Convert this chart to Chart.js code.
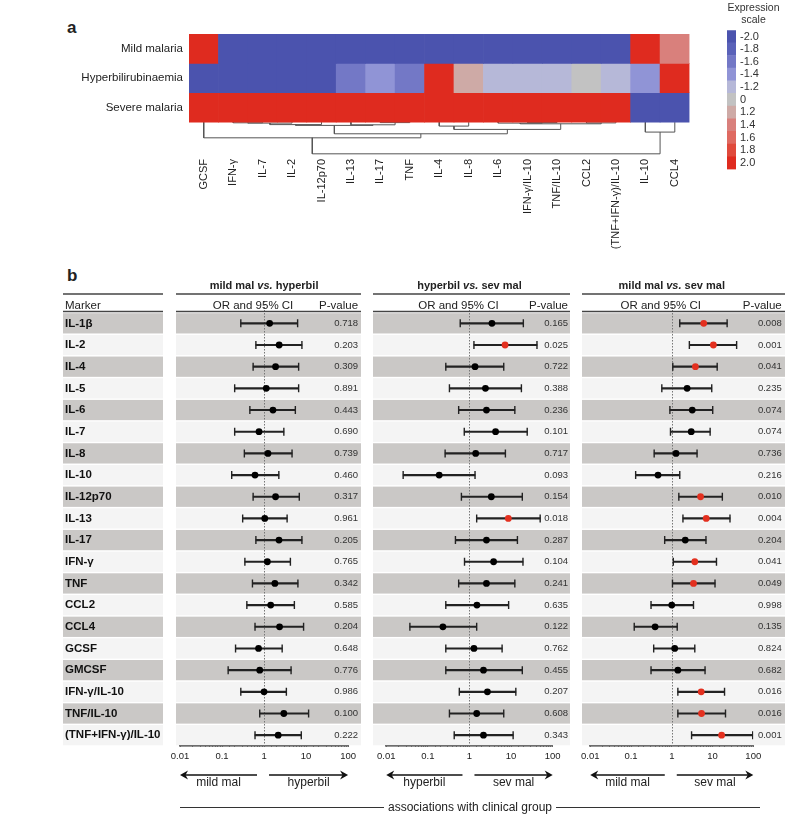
<!DOCTYPE html>
<html>
<head>
<meta charset="utf-8">
<script src="https://cdn.jsdelivr.net/npm/chart.js@4.4.1/dist/chart.umd.min.js"></script>
<style>
  body { margin: 0; background: #fff; }
  #fig { position: relative; width: 785px; height: 814px; font-family: 'Liberation Sans', Arial, sans-serif; color: #222; }
  #fig canvas { position: absolute; }
  .panel-label { position: absolute; font-weight: bold; font-size: 17px; line-height: 17px; }
  #assoc { position: absolute; left: 180px; top: 799px; width: 580px; height: 16px; display: flex; align-items: center; font-size: 12px; }
  #assoc .rule { flex: 1; border-top: 1px solid #333; }
  #assoc span { margin: 0 4px; }
</style>
</head>
<body>
<div id="fig">
  <div class="panel-label" style="left:67px; top:19px">a</div>
  <div class="panel-label" style="left:67px; top:267px">b</div>
  <canvas id="heatmap" width="692" height="265" style="left:0; top:0"></canvas>
  <canvas id="scale" width="70" height="180" style="left:710px; top:0"></canvas>
  <canvas id="forest1"></canvas>
  <canvas id="forest2"></canvas>
  <canvas id="forest3"></canvas>
  <div id="assoc"><div class="rule"></div><span>associations with clinical group</span><div class="rule"></div></div>
</div>
<script>
const FONT = "'Liberation Sans', Arial, sans-serif";
Chart.defaults.font.family = FONT;
Chart.defaults.color = '#222';
Chart.defaults.animation = false;
Chart.defaults.plugins.legend.display = false;
Chart.defaults.plugins.tooltip.enabled = false;

// ---- panel a data ----
const heatCols = ['GCSF', 'IFN-γ', 'IL-7', 'IL-2', 'IL-12p70', 'IL-13', 'IL-17', 'TNF', 'IL-4', 'IL-8', 'IL-6',
    'IFN-γ/IL-10', 'TNF/IL-10', 'CCL2', '(TNF+IFN-γ)/IL-10', 'IL-10', 'CCL4'];
const heatRows = ['Mild malaria', 'Hyperbilirubinaemia', 'Severe malaria'];
const mildExpr = [2, -2, -2, -2, -2, -2, -2, -2, -2, -2, -2, -2, -2, -2, -2, 2, 1.4];
const hyperExpr = [-2, -2, -2, -2, -2, -1.6, -1.4, -1.6, 2, 1.2, -1.2, -1.2, -1.2, 0, -1.2, -1.4, 2];
const severeExpr = [2, 2, 2, 2, 2, 2, 2, 2, 2, 2, 2, 2, 2, 2, 2, -2, -2];

const scaleValues = [-2, -1.8, -1.6, -1.4, -1.2, 0, 1.2, 1.4, 1.6, 1.8, 2];
const scaleLabels = ['-2.0', '-1.8', '-1.6', '-1.4', '-1.2', '0', '1.2', '1.4', '1.6', '1.8', '2.0'];
const scaleColors = ['#4b53ae', '#5a62b9', '#7378c6', '#9094d6', '#b6b8d8', '#c2c2c2',
    '#ceaaa6', '#d9807c', '#df6a61', '#e04a3c', '#df2b1f'];

// dendrogram merges: [node a, node b, linkage height]; leaves are 0..16, new nodes numbered from 17
const dendroMerges = [
    [1, 2, 0.024], [17, 3, 0.034], [18, 4, 0.085], [6, 7, 0.017], [5, 20, 0.092], [19, 21, 0.112],
    [8, 9, 0.136], [11, 12, 0.017], [10, 24, 0.034], [13, 14, 0.027], [25, 26, 0.058], [23, 27, 0.249],
    [22, 28, 0.398], [0, 29, 0.535], [15, 16, 0.34], [30, 31, 1.08]
];

// ---- panel b data ----
const markers = ['IL-1β', 'IL-2', 'IL-4', 'IL-5', 'IL-6', 'IL-7', 'IL-8', 'IL-10', 'IL-12p70', 'IL-13', 'IL-17',
    'IFN-γ', 'TNF', 'CCL2', 'CCL4', 'GCSF', 'GMCSF', 'IFN-γ/IL-10', 'TNF/IL-10', '(TNF+IFN-γ)/IL-10'];
const tickLabels = ['0.01', '0.1', '1', '10', '100'];

const orMildHyper = [1.36, 2.29, 1.88, 1.13, 1.63, 0.76, 1.24, 0.61, 1.88, 1.04, 2.27, 1.2, 1.81, 1.44, 2.34, 0.74, 0.79, 1.0, 2.96, 2.17];
const loMildHyper = [0.28, 0.64, 0.55, 0.2, 0.46, 0.2, 0.34, 0.17, 0.55, 0.31, 0.64, 0.35, 0.53, 0.39, 0.61, 0.21, 0.14, 0.28, 0.79, 0.61];
const hiMildHyper = [6.3, 7.97, 6.66, 6.66, 5.56, 2.96, 4.64, 2.25, 6.9, 3.54, 7.97, 4.24, 6.4, 5.27, 8.73, 2.7, 4.4, 3.4, 11.5, 7.7];
const pMildHyper = ['0.718', '0.203', '0.309', '0.891', '0.443', '0.690', '0.739', '0.460', '0.317', '0.961',
    '0.205', '0.765', '0.342', '0.585', '0.204', '0.648', '0.776', '0.986', '0.100', '0.222'];

const orHyperSev = [3.47, 7.16, 1.36, 2.42, 2.56, 4.24, 1.41, 0.187, 3.35, 8.57, 2.56, 3.8, 2.56, 1.51, 0.23, 1.28, 2.17, 2.7, 1.49, 2.17];
const loHyperSev = [0.6, 1.28, 0.27, 0.33, 0.55, 0.75, 0.26, 0.0255, 0.64, 1.49, 0.46, 0.76, 0.55, 0.27, 0.037, 0.27, 0.27, 0.57, 0.33, 0.43];
const hiHyperSev = [19.7, 41.9, 6.66, 17.7, 12.3, 24.4, 7.3, 1.36, 18.6, 50, 14.2, 19.3, 12.3, 8.73, 1.49, 6.08, 18.6, 13, 6.66, 11.2];
const pHyperSev = ['0.165', '0.025', '0.722', '0.388', '0.236', '0.101', '0.717', '0.093', '0.154', '0.018',
    '0.287', '0.104', '0.241', '0.635', '0.122', '0.762', '0.455', '0.207', '0.608', '0.343'];

const orMildSev = [6.08, 10.5, 3.8, 2.38, 3.18, 3.0, 1.27, 0.46, 5.08, 7.0, 2.14, 3.67, 3.41, 1.0, 0.39, 1.18, 1.41, 5.27, 5.37, 16.7];
const loMildSev = [1.57, 2.7, 1.06, 0.57, 0.9, 0.93, 0.37, 0.13, 1.49, 1.88, 0.67, 1.09, 1.04, 0.31, 0.12, 0.36, 0.31, 1.41, 1.41, 3.06];
const hiMildSev = [22.8, 39, 13, 9.56, 10.1, 8.73, 4.17, 1.57, 17.4, 26.8, 6.9, 12.5, 11.5, 3.41, 1.36, 3.67, 6.55, 19.7, 20.8, 96.8];
const pMildSev = ['0.008', '0.001', '0.041', '0.235', '0.074', '0.074', '0.736', '0.216', '0.010', '0.004',
    '0.204', '0.041', '0.049', '0.998', '0.135', '0.824', '0.682', '0.016', '0.016', '0.001'];

// ---- heatmap ----
const colorFor = (v) => {
    let best = 0;
    scaleValues.forEach((s, i) => {
        if (Math.abs(s - v) < Math.abs(scaleValues[best] - v)) best = i;
    });
    return scaleColors[best];
};

const nodeX = heatCols.map((c, i) => i);
const nodeH = heatCols.map(() => 0);
const dendroPoints = [];
dendroMerges.forEach(([a, b, h]) => {
    dendroPoints.push(
        { x: nodeX[a], y: -nodeH[a] }, { x: nodeX[a], y: -h },
        { x: nodeX[b], y: -h }, { x: nodeX[b], y: -nodeH[b] },
        { x: null, y: null }
    );
    nodeX.push((nodeX[a] + nodeX[b]) / 2);
    nodeH.push(h);
});

const exprRows = [mildExpr, hyperExpr, severeExpr];

new Chart(document.getElementById('heatmap'), {
    type: 'bar',
    data: {
        labels: heatCols,
        datasets: [
            ...exprRows.map((vals, r) => ({
                label: heatRows[r],
                data: vals.map(() => [2 - r, 3 - r]),
                backgroundColor: vals.map(colorFor),
                borderWidth: 0,
                grouped: false,
                categoryPercentage: 1,
                barPercentage: 1
            })),
            {
                type: 'line',
                data: dendroPoints,
                xAxisID: 'xd',
                borderColor: '#555',
                borderWidth: 1,
                pointRadius: 0,
                spanGaps: false,
                tension: 0
            }
        ]
    },
    options: {
        responsive: false,
        layout: { padding: { top: 34, left: 0, right: 0, bottom: 0 } },
        scales: {
            x: {
                grid: { display: false, drawTicks: false },
                border: { display: false },
                ticks: { autoSkip: false, minRotation: 90, maxRotation: 90, padding: 4, font: { size: 11 }, color: '#222' },
                afterFit: (s) => { s.height = 110; }
            },
            xd: { type: 'linear', display: false, offset: false, min: -0.5, max: heatCols.length - 0.5 },
            y: {
                type: 'linear',
                min: -1.12,
                max: 3,
                grid: { display: false, drawTicks: false },
                border: { display: false },
                afterBuildTicks: (s) => { s.ticks = [2.5, 1.5, 0.5].map(v => ({ value: v })); },
                ticks: { padding: 6, font: { size: 11.5 }, color: '#222', callback: (v) => heatRows[Math.round(2.5 - v)] },
                afterFit: (s) => { s.width = 189; }
            }
        }
    }
});

// ---- colour scale legend ----
new Chart(document.getElementById('scale'), {
    type: 'bar',
    data: {
        labels: scaleLabels,
        datasets: [{
            data: scaleLabels.map(() => 1),
            backgroundColor: scaleColors,
            borderWidth: 0,
            categoryPercentage: 1,
            barPercentage: 1
        }]
    },
    options: {
        indexAxis: 'y',
        responsive: false,
        layout: { padding: { left: 17, top: 0, bottom: 7, right: 0 } },
        plugins: {
            title: {
                display: true,
                text: ['Expression', 'scale'],
                color: '#333',
                font: { size: 10.5, weight: 'normal', lineHeight: 1.15 },
                padding: { top: 2, bottom: 4 }
            }
        },
        scales: {
            x: { display: false, min: 0, max: 1 },
            y: {
                position: 'right',
                grid: { display: false, drawTicks: false },
                border: { display: false },
                ticks: { autoSkip: false, padding: 4, font: { size: 11 }, color: '#333' },
                afterFit: (s) => { s.width = 44; }
            }
        }
    }
});

// ---- forest plots ----
const drawArrow = (ctx, from, tip, y) => {
    const dir = Math.sign(tip - from);
    ctx.beginPath();
    ctx.moveTo(from, y);
    ctx.lineTo(tip - dir * 5, y);
    ctx.stroke();
    ctx.beginPath();
    ctx.moveTo(tip, y);
    ctx.lineTo(tip - dir * 8, y - 4.5);
    ctx.lineTo(tip - dir * 5.5, y);
    ctx.lineTo(tip - dir * 8, y + 4.5);
    ctx.closePath();
    ctx.fill();
};

function drawForest(id, box, groups, or, lo, hi, pv) {
    const canvas = document.getElementById(id);
    canvas.width = box.width;
    canvas.height = 532;
    canvas.style.left = box.left + 'px';
    canvas.style.top = '272px';
    const bands = box.bands.map(([l, r]) => [l - box.left, r - box.left]);

    const deco = {
        id: 'deco',
        beforeDatasetsDraw(chart) {
            const { ctx, chartArea, scales } = chart;
            const step = (chartArea.bottom - chartArea.top) / markers.length;
            ctx.save();
            markers.forEach((m, i) => {
                const yc = scales.y.getPixelForValue(i);
                ctx.fillStyle = i % 2 === 0 ? '#cac8c6' : '#f4f4f4';
                bands.forEach(([l, r]) => ctx.fillRect(l, yc - step / 2 + 0.7, r - l, step - 1.4));
            });
            // reference line at OR = 1
            const x1 = Math.round(scales.x.getPixelForValue(1)) + 0.5;
            ctx.strokeStyle = '#777';
            ctx.lineWidth = 1;
            ctx.setLineDash([1.5, 1.5]);
            ctx.beginPath();
            ctx.moveTo(x1, 29);
            ctx.lineTo(x1, chartArea.bottom);
            ctx.stroke();
            ctx.restore();
        },
        afterDraw(chart) {
            const { ctx, chartArea, scales } = chart;
            const x1 = scales.x.getPixelForValue(1);
            ctx.save();
            ctx.strokeStyle = '#444';
            ctx.lineWidth = 1.5;
            bands.forEach(([l, r]) => {
                [22, 39.5].forEach(y => {
                    ctx.beginPath();
                    ctx.moveTo(l, y);
                    ctx.lineTo(r, y);
                    ctx.stroke();
                });
            });

            ctx.fillStyle = '#222';
            ctx.textBaseline = 'middle';
            // panel title with italic "vs."
            const parts = [[groups[0] + ' ', 'bold'], ['vs.', 'italic bold'], [' ' + groups[1], 'bold']];
            const widths = parts.map(([t, w]) => { ctx.font = `${w} 11px ${FONT}`; return ctx.measureText(t).width; });
            let tx = (chartArea.left + chartArea.right) / 2 - widths.reduce((a, b) => a + b, 0) / 2;
            ctx.textAlign = 'left';
            parts.forEach(([t, w], i) => {
                ctx.font = `${w} 11px ${FONT}`;
                ctx.fillText(t, tx, 14);
                tx += widths[i];
            });

            ctx.font = `11.5px ${FONT}`;
            ctx.textAlign = 'center';
            ctx.fillText('OR and 95% CI', x1 - 11, 33.5);
            ctx.textAlign = 'right';
            ctx.fillText('P-value', scales.yp.right, 33.5);
            if (box.showMarkers) {
                ctx.textAlign = 'left';
                ctx.fillText('Marker', scales.y.left, 33.5);
            }

            // direction arrows
            ctx.strokeStyle = '#111';
            ctx.fillStyle = '#111';
            ctx.lineWidth = 1.5;
            drawArrow(ctx, x1 - 7, chartArea.left, 503);
            drawArrow(ctx, x1 + 5, chartArea.right, 503);
            ctx.fillStyle = '#222';
            ctx.font = `12px ${FONT}`;
            ctx.textAlign = 'center';
            ctx.fillText(groups[0], (chartArea.left + x1 - 7) / 2, 511);
            ctx.fillText(groups[1], (chartArea.right + x1 + 5) / 2, 511);
            ctx.restore();
        }
    };

    new Chart(canvas, {
        type: 'bar',
        data: {
            labels: markers,
            datasets: [
                {
                    type: 'line',
                    indexAxis: 'y',
                    data: or,
                    showLine: false,
                    pointRadius: 3.4,
                    pointBorderWidth: 0,
                    pointBackgroundColor: pv.map(p => parseFloat(p) < 0.05 ? '#e3301f' : '#000'),
                    order: 0
                },
                {
                    type: 'line',
                    indexAxis: 'y',
                    data: lo,
                    showLine: false,
                    pointStyle: 'line',
                    rotation: 90,
                    pointRadius: 4,
                    pointBorderColor: '#222',
                    pointBorderWidth: 1.4,
                    order: 1
                },
                {
                    type: 'line',
                    indexAxis: 'y',
                    data: hi,
                    showLine: false,
                    pointStyle: 'line',
                    rotation: 90,
                    pointRadius: 4,
                    pointBorderColor: '#222',
                    pointBorderWidth: 1.4,
                    order: 1
                },
                {
                    type: 'bar',
                    indexAxis: 'y',
                    data: lo.map((l, i) => [l, hi[i]]),
                    backgroundColor: '#222',
                    borderWidth: 0,
                    barThickness: 1.5,
                    order: 2
                }
            ]
        },
        options: {
            indexAxis: 'y',
            responsive: false,
            layout: { padding: { top: 40.5, bottom: 40, left: box.padLeft, right: box.padRight } },
            scales: {
                x: {
                    type: 'logarithmic',
                    min: 0.01,
                    max: 100,
                    grid: { drawOnChartArea: false, drawTicks: true, tickLength: -4, color: '#333', lineWidth: 1 },
                    border: { display: true, color: '#333', width: 1.5 },
                    ticks: {
                        autoSkip: false,
                        maxRotation: 0,
                        padding: 9,
                        font: { size: 9.5 },
                        color: '#222',
                        callback: (v) => {
                            const e = Math.log10(v);
                            const r = Math.round(e);
                            return Math.abs(e - r) < 1e-6 ? tickLabels[r + 2] : '';
                        }
                    },
                    afterFit: (s) => { s.height = 18; }
                },
                y: {
                    type: 'category',
                    labels: markers,
                    offset: true,
                    display: box.showMarkers,
                    position: 'left',
                    grid: { display: false, drawTicks: false },
                    border: { display: false },
                    ticks: { z: 1, autoSkip: false, crossAlign: 'far', padding: 0, font: { size: 11.5, weight: 'bold' }, color: '#111' },
                    afterFit: (s) => { s.width = box.yWidth || 0; }
                },
                yp: {
                    type: 'category',
                    labels: markers,
                    offset: true,
                    position: 'right',
                    grid: { display: false, drawTicks: false },
                    border: { display: false },
                    // mirrored so the labels are not clipped to the narrow axis box
                    ticks: { z: 1, autoSkip: false, mirror: true, crossAlign: 'near', padding: box.pWidth,
                        font: { size: 9.5 }, color: '#333', callback: (v, i) => pv[i] },
                    afterFit: (s) => { s.width = box.pWidth; }
                }
            }
        },
        plugins: [deco]
    });
}

drawForest('forest1', { left: 60, width: 305, padLeft: 5, padRight: 5, yWidth: 115, pWidth: 10, showMarkers: true,
    bands: [[63, 163], [176, 361]] }, ['mild mal', 'hyperbil'], orMildHyper, loMildHyper, hiMildHyper, pMildHyper);
drawForest('forest2', { left: 368, width: 202, padLeft: 14.7, padRight: 2, pWidth: 15.3, showMarkers: false,
    bands: [[373, 570]] }, ['hyperbil', 'sev mal'], orHyperSev, loHyperSev, hiHyperSev, pHyperSev);
drawForest('forest3', { left: 572, width: 213, padLeft: 11.3, padRight: 3.3, pWidth: 28.4, showMarkers: false,
    bands: [[582, 785]] }, ['mild mal', 'sev mal'], orMildSev, loMildSev, hiMildSev, pMildSev);
</script>
</body>
</html>
